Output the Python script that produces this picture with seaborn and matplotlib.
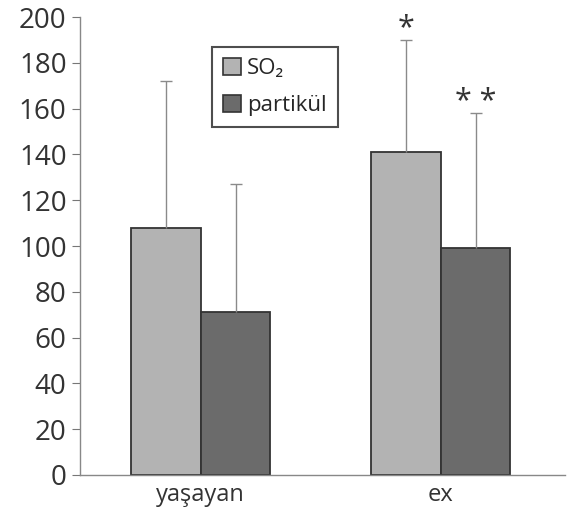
import matplotlib
matplotlib.use("Agg")
import matplotlib.pyplot as plt
import pandas as pd
import seaborn as sns

# Werte
gruppen = ["yaşayan", "ex"]
serien = ["SO₂", "partikül"]
so2_werte = [108, 141]
partikul_werte = [71, 99]
so2_fehler = [64, 49]
partikul_fehler = [56, 59]
sterne = {("ex", "SO₂"): "*", ("ex", "partikül"): "* *"}

df = pd.DataFrame({
    "Gruppe": gruppen * 2,
    "Serie": [serien[0]] * 2 + [serien[1]] * 2,
    "Wert": so2_werte + partikul_werte,
    "Fehler": so2_fehler + partikul_fehler,
})

sns.set_style("ticks")
plt.rcParams["font.family"] = ["Open Sans", "DejaVu Sans"]

farben = {"SO₂": "#b3b3b3", "partikül": "#6b6b6b"}

fig = plt.figure(figsize=(5.7, 5.11), dpi=100)
ax = fig.add_axes([0.14, 0.0705, 0.851, 0.896])

sns.barplot(data=df, x="Gruppe", y="Wert", hue="Serie", order=gruppen,
            hue_order=serien, palette=farben, width=0.58, edgecolor="#333333",
            linewidth=1.3, saturation=1, errorbar=None, ax=ax)

# Fehlerbalken nur nach oben
for cont, serie in zip(ax.containers, serien):
    sub = df[df["Serie"] == serie].set_index("Gruppe").loc[gruppen]
    xs = [p.get_x() + p.get_width() / 2 for p in cont.patches]
    eb = ax.errorbar(xs, sub["Wert"], yerr=[[0] * len(xs), sub["Fehler"]],
                     fmt="none", ecolor="#8a8a8a", elinewidth=1, capsize=4,
                     capthick=1, zorder=1)
    eb[1][0].set_visible(False)  # untere Kappe weg
    for x, g, w, f in zip(xs, gruppen, sub["Wert"], sub["Fehler"]):
        s = sterne.get((g, serie))
        if s:
            ax.text(x, w + f - 1.5, s, ha="center", va="bottom", fontsize=22,
                    color="#333333")

ax.set_ylim(0, 200)
ax.set_yticks(range(0, 201, 20))
ax.set_xlim(-0.504, 1.517)
ax.set_xlabel("")
ax.set_ylabel("")
ax.tick_params(axis="y", labelsize=20, length=6, width=0.8, color="#777777",
               labelcolor="#333333")
ax.tick_params(axis="x", labelsize=17, length=0, labelcolor="#333333", pad=6)
sns.despine(ax=ax)
for sp in ["left", "bottom"]:
    ax.spines[sp].set_color("#888888")
    ax.spines[sp].set_linewidth(1)

leg = ax.legend(loc="upper left", bbox_to_anchor=(0.272, 0.935), borderaxespad=0,
                fontsize=16, fancybox=False, frameon=True, handlelength=0.8,
                handleheight=0.8, handletextpad=0.3, borderpad=0.5,
                labelspacing=0.7)
leg.get_frame().set_edgecolor("#222222")
leg.get_frame().set_linewidth(1.5)
for h in leg.legend_handles:
    h.set_edgecolor("#333333")
    h.set_linewidth(1.2)

fig.savefig("out.png", dpi=100)
